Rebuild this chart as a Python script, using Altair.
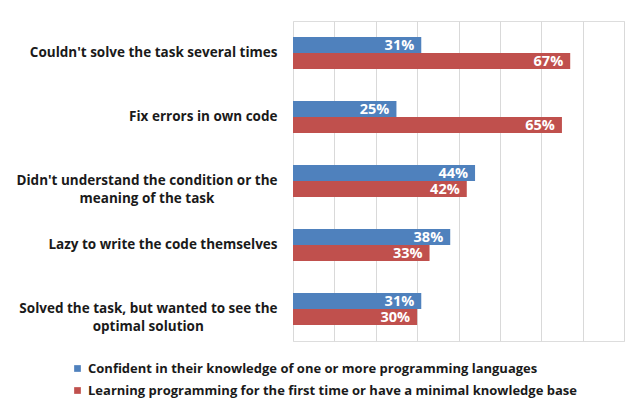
import altair as alt
import pandas as pd

NB = "\u00a0"
ZW = "\u200b"
categories = [
    "Couldn't solve the task several times",
    "Fix errors in own code",
    "Didn't understand the condition or the\nmeaning of the task" + NB * 18 + ZW,
    "Lazy to write the code themselves",
    "Solved the task, but wanted to see the\noptimal solution" + NB * 21 + ZW,
]
series = [
    "Confident in their knowledge of one or more programming languages",
    "Learning programming for the first time or have a minimal knowledge base",
]
confident = [31, 25, 44, 38, 31]
learning = [67, 65, 42, 33, 30]
colors = ["#4F81BD", "#C0504D"]

rows = []
for i, c in enumerate(categories):
    rows.append({"cat": c, "series": series[0], "value": confident[i], "label": f"{confident[i]}%"})
    rows.append({"cat": c, "series": series[1], "value": learning[i], "label": f"{learning[i]}%"})
df = pd.DataFrame(rows)

FONT = "Open Sans"

y = alt.Y("cat:N", sort=categories, title=None,
          scale=alt.Scale(paddingInner=0.5, paddingOuter=0.25),
          axis=alt.Axis(labelFont=FONT, labelFontSize=13.5, labelFontWeight="bold",
                        labelColor="#1a1a1a", labelPadding=16, ticks=False, domain=False,
                        labelLineHeight=18,
                        labelExpr="split(datum.label, '\\n')", labelLimit=400))
x = alt.X("value:Q", title=None, scale=alt.Scale(domain=[0, 80]),
          axis=alt.Axis(values=[0, 10, 20, 30, 40, 50, 60, 70, 80], labels=False, ticks=False,
                        domain=False, grid=True, gridColor="#d9d9d9", gridWidth=1))
yoff = alt.YOffset("series:N", sort=series)

bars = alt.Chart(df).mark_bar().encode(
    y=y, x=x, yOffset=yoff,
    color=alt.Color("series:N", sort=series, scale=alt.Scale(domain=series, range=colors),
                    legend=alt.Legend(title=None, orient="none", legendX=-222, legendY=341,
                                      direction="vertical", symbolType="square", symbolSize=45,
                                      symbolStrokeWidth=0, labelFont=FONT, labelFontSize=13,
                                      labelFontWeight="bold", labelColor="#1a1a1a",
                                      rowPadding=8, labelLimit=600, symbolOffset=0)),
)
labels = alt.Chart(df).mark_text(align="right", baseline="middle", dx=-7, dy=1, color="white",
                                 font=FONT, fontSize=14.5, fontWeight="bold").encode(
    y=alt.Y("cat:N", sort=categories), x="value:Q", yOffset=yoff, text="label:N")

chart = alt.layer(bars, labels).properties(
    width=331, height=320,
    padding={"left": 293, "top": 21, "right": 16, "bottom": 67},
    autosize=alt.AutoSizeParams(type="none"),
).configure_view(stroke=None).configure(background="white")

chart.save("out.html", embed_options={"renderer": "svg", "actions": False})
